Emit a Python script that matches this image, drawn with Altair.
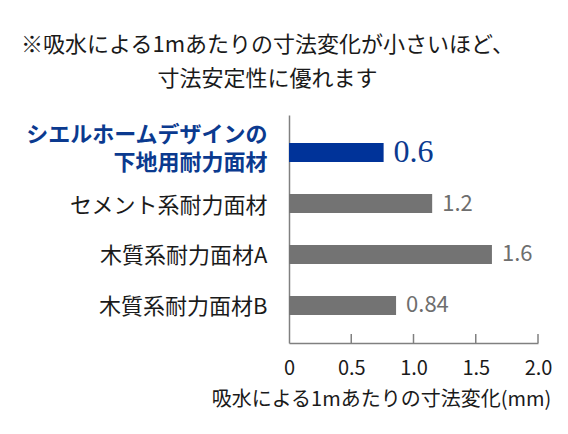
import altair as alt
import pandas as pd

categories = ["シエルホームデザインの\n下地用耐力面材", "セメント系耐力面材", "木質系耐力面材A", "木質系耐力面材B"]
# bar lengths as drawn in the picture (measured against the axis)
bar_lengths = [0.76, 1.15, 1.63, 0.86]
value_labels = ["0.6", "1.2", "1.6", "0.84"]
highlight = [True, False, False, False]
tick_values = [0, 0.5, 1.0, 1.5, 2.0]
inner_ticks = [0.5, 1.0, 1.5, 2.0]
title_lines = ["※吸水による1mあたりの寸法変化が小さいほど、", "寸法安定性に優れます"]
x_title = "吸水による1mあたりの寸法変化(mm)"

BLUE = "#003399"
BLUE_TXT = "#0b3a8f"
GRAY = "#737373"
AXIS = "#808080"
FONT = "Noto Sans CJK JP"

W, H = 249, 228

df = pd.DataFrame({"cat": categories, "val": bar_lengths, "lab": value_labels, "hl": highlight})
test_first = "datum.value === 'シエルホームデザインの\\n下地用耐力面材'"

y_enc = alt.Y(
    "cat:N",
    sort=categories,
    title=None,
    scale=alt.Scale(paddingInner=0.627, paddingOuter=0.55),
    axis=alt.Axis(
        ticks=False,
        domainColor=AXIS,
        domainWidth=1.5,
        labelFont=FONT,
        labelFontSize=22,
        labelPadding=22,
        labelLineHeight=28,
        labelLimit=400,
        labelBaseline="middle",
        labelExpr="split(datum.label, '\\n')",
        labelOffset={"condition": {"test": test_first, "value": -18}, "value": 2},
        labelColor={"condition": {"test": test_first, "value": BLUE_TXT}, "value": "#1a1a1a"},
        labelFontWeight={"condition": {"test": test_first, "value": "bold"}, "value": "normal"},
    ),
)

x_enc = alt.X(
    "val:Q",
    title=x_title,
    scale=alt.Scale(domain=[0, 2], nice=False, zero=True),
    axis=alt.Axis(
        values=tick_values,
        ticks=False,
        grid=False,
        domainColor=AXIS,
        domainWidth=1.5,
        labelFont=FONT,
        labelFontSize=20,
        labelColor="#1a1a1a",
        labelPadding=15,
        labelExpr="datum.value == 0 ? '0' : format(datum.value, '.1f')",
        labelFlush=False,
        titleFont=FONT,
        titleFontSize=20,
        titleFontWeight="normal",
        titleColor="#1a1a1a",
        titleX=92,
        titleY=56,
        titleAlign="center",
        titleBaseline="middle",
    ),
)

base = alt.Chart(df)

bars = base.mark_bar().encode(
    x=x_enc,
    y=y_enc,
    color=alt.condition("datum.hl", alt.value(BLUE), alt.value(GRAY)),
)

txt_hl = base.transform_filter("datum.hl").mark_text(
    align="left", baseline="middle", dx=10, dy=-1, font="Liberation Serif", fontSize=32, color=BLUE_TXT
).encode(x="val:Q", y=alt.Y("cat:N", sort=categories), text="lab:N")

txt_other = base.transform_filter("!datum.hl").mark_text(
    align="left", baseline="middle", dx=10, font=FONT, fontSize=22, color="#6e6e6e"
).encode(x="val:Q", y=alt.Y("cat:N", sort=categories), text="lab:N")

ticks = alt.Chart(pd.DataFrame({"t": inner_ticks})).mark_rule(color=AXIS, strokeWidth=1.5).encode(
    x="t:Q", y=alt.value(H - 9), y2=alt.value(H)
)

chart = alt.layer(bars, ticks, txt_hl, txt_other).properties(
    width=W,
    height=H,
    padding={"left": 281, "top": 107, "right": 22, "bottom": 83},
    autosize=alt.AutoSizeParams(type="none"),
    title=alt.TitleParams(
        text=title_lines,
        font=FONT,
        fontSize=22,
        fontWeight="normal",
        color="#1a1a1a",
        lineHeight=34,
        anchor="middle",
        dx=-146,
        offset=24,
    ),
    background="white",
).configure_view(stroke=None)

chart.save("out.html", embed_options={"renderer": "svg", "actions": False})
